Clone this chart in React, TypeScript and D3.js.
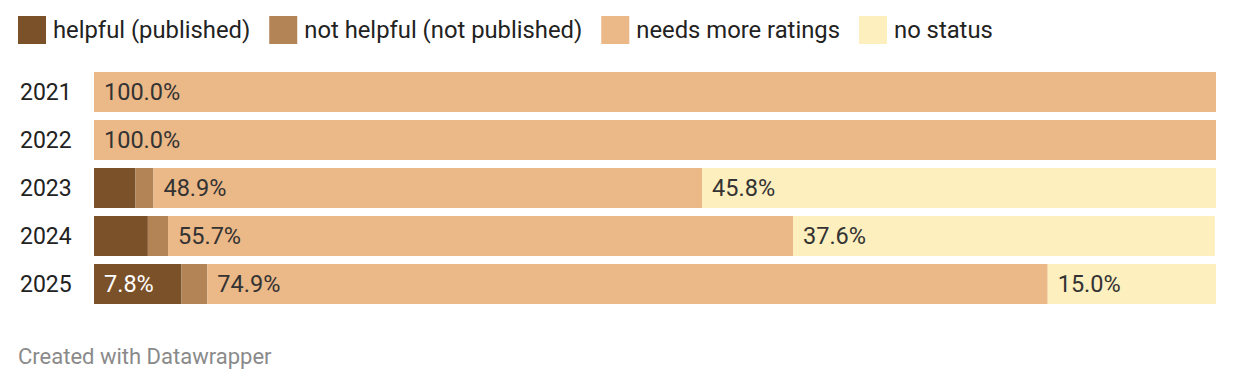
import React, { useRef, useEffect } from "react";
import * as d3 from "d3";

const years = ["2021", "2022", "2023", "2024", "2025"];
const statuses = [
  "helpful (published)",
  "not helpful (not published)",
  "needs more ratings",
  "no status",
];
const helpful = [0, 0, 3.7, 4.8, 7.8];
const notHelpful = [0, 0, 1.6, 1.8, 2.3];
const needsMore = [100, 100, 48.9, 55.7, 74.9];
const noStatus = [0, 0, 45.8, 37.6, 15.0];
// which values get a label printed on the bar
const labelMin = 5;

const colors = ["#7b5129", "#b38455", "#ebb887", "#fdefbe"];
const labelColors = ["#ffffff", "#333333", "#333333", "#333333"];

const W = 1235;
const H = 386;

export default function App() {
  const ref = useRef<SVGSVGElement>(null);

  useEffect(() => {
    const svg = d3.select(ref.current);
    svg.selectAll("*").remove();
    const font = "Roboto, sans-serif";

    // legend
    const legend = svg.append("g");
    let lx = 18;
    statuses.forEach((s, i) => {
      legend
        .append("rect")
        .attr("x", lx)
        .attr("y", 16)
        .attr("width", 28)
        .attr("height", 28)
        .attr("fill", colors[i]);
      const t = legend
        .append("text")
        .attr("x", lx + 35)
        .attr("y", 38)
        .style("font-family", font)
        .style("font-size", "23.8px")
        .attr("fill", "#222")
        .text(s);
      const w = (t.node() as SVGTextElement).getComputedTextLength();
      lx += 35 + w + 19;
    });

    const rows = years.map((y, i) => ({
      year: y,
      vals: [helpful[i], notHelpful[i], needsMore[i], noStatus[i]],
    }));

    const x = d3.scaleLinear().domain([0, 100]).range([94, 1216]);
    const y = d3
      .scaleBand()
      .domain(years)
      .range([72, 304])
      .paddingInner(8 / 48)
      .paddingOuter(0);

    const g = svg.append("g");
    rows.forEach((r) => {
      const row = g.append("g");
      let acc = 0;
      const yy = y(r.year) as number;
      row
        .append("text")
        .attr("x", 20)
        .attr("y", yy + y.bandwidth() / 2)
        .attr("dy", "0.35em")
        .style("font-family", font)
        .style("font-size", "23px")
        .attr("fill", "#222")
        .text(r.year);
      r.vals.forEach((v, j) => {
        const x0 = x(acc);
        const x1 = x(acc + v);
        acc += v;
        if (v <= 0) return;
        row
          .append("rect")
          .attr("x", x0)
          .attr("y", yy)
          .attr("width", x1 - x0)
          .attr("height", y.bandwidth())
          .attr("fill", colors[j]);
        if (v >= labelMin) {
          row
            .append("text")
            .attr("x", x0 + 10)
            .attr("y", yy + y.bandwidth() / 2)
            .attr("dy", "0.35em")
            .style("font-family", font)
            .style("font-size", "23.5px")
            .attr("fill", labelColors[j])
            .text(v.toFixed(1) + "%");
        }
      });
    });

    svg
      .append("text")
      .attr("x", 18)
      .attr("y", 364)
      .style("font-family", font)
      .style("font-size", "22px")
      .attr("fill", "#8a8a8a")
      .text("Created with Datawrapper");
  }, []);

  return (
    <svg
      ref={ref}
      width={W}
      height={H}
      style={{ position: "absolute", left: 0, top: 0, background: "#fff" }}
    />
  );
}
